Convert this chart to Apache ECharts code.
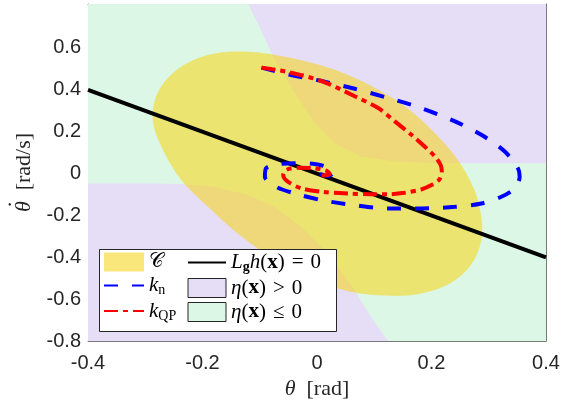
<!DOCTYPE html>
<html>
<head>
<meta charset="utf-8">
<script src="https://cdn.jsdelivr.net/npm/echarts@6/dist/echarts.min.js"></script>
<style>
html, body { margin: 0; padding: 0; background: #fff; }
#main { width: 576px; height: 400px; }
</style>
</head>
<body>
<div id="main"></div>
<script>
// axis limits and tick labels
var X_MIN = -0.4, X_MAX = 0.4, Y_MIN = -0.8, Y_MAX = 0.81;
var xTickLabels = [-0.4, -0.2, 0, 0.2, 0.4];
var yTickLabels = [-0.8, -0.6, -0.4, -0.2, 0, 0.2, 0.4, 0.6];

// region C (yellow), boundary [theta, thetaDot]
var setC = [[-0.287, 0.257], [-0.281, 0.369], [-0.260, 0.458], [-0.225, 0.530], [-0.179, 0.573],
  [-0.132, 0.583], [-0.080, 0.570], [-0.022, 0.538], [0.037, 0.490], [0.095, 0.418],
  [0.153, 0.321], [0.206, 0.193], [0.246, 0.065], [0.275, -0.079], [0.287, -0.208],
  [0.287, -0.320], [0.270, -0.432], [0.235, -0.520], [0.182, -0.573], [0.136, -0.584],
  [0.083, -0.576], [0.031, -0.544], [-0.022, -0.488], [-0.080, -0.400], [-0.138, -0.288],
  [-0.190, -0.160], [-0.237, -0.031], [-0.272, 0.129]];

// eta(x) > 0 : two pieces
var etaPosUpper = [[-0.1205, Y_MAX], [-0.097, 0.682], [-0.077, 0.562], [-0.056, 0.466], [-0.039, 0.385],
  [-0.004, 0.241], [0.031, 0.145], [0.077, 0.081], [0.136, 0.057], [0.206, 0.049],
  [X_MAX, 0.049], [X_MAX, Y_MAX]];
var etaPosLower = [[X_MIN, -0.047], [-0.284, -0.047], [-0.237, -0.050], [-0.179, -0.063], [-0.1205, -0.103],
  [-0.074, -0.159], [-0.027, -0.256], [0.008, -0.352], [0.037, -0.448], [0.066, -0.560],
  [0.095, -0.688], [0.124, Y_MIN], [X_MIN, Y_MIN]];
// eta(x) <= 0 : whole box (purple drawn on top)
var etaNeg = [[X_MIN, Y_MIN], [X_MAX, Y_MIN], [X_MAX, Y_MAX], [X_MIN, Y_MAX]];

// L_g h(x) = 0
var lghLine = [[-0.4, 0.4], [0.4, -0.4]];

// trajectories
var kN = [[-0.097, 0.506], [-0.051, 0.474], [0.008, 0.442], [0.066, 0.405], [0.124, 0.361],
  [0.182, 0.313], [0.241, 0.249], [0.287, 0.185], [0.328, 0.105], [0.351, 0.025],
  [0.354, -0.015], [0.345, -0.071], [0.322, -0.111], [0.287, -0.143], [0.241, -0.159],
  [0.182, -0.167], [0.124, -0.167], [0.066, -0.151], [0.008, -0.127], [-0.039, -0.095],
  [-0.074, -0.060], [-0.091, -0.015], [-0.089, 0.025], [-0.068, 0.044], [-0.039, 0.049],
  [-0.004, 0.046], [0.019, 0.028], [0.028, 0.004], [0.019, -0.012], [0.005, -0.002]];
var kQP = [[-0.097, 0.506], [-0.051, 0.485], [0.008, 0.442], [0.066, 0.369], [0.107, 0.313],
  [0.136, 0.249], [0.165, 0.185], [0.188, 0.129], [0.206, 0.081], [0.216, 0.041],
  [0.218, 0.009], [0.213, -0.031], [0.200, -0.055], [0.182, -0.076], [0.153, -0.092],
  [0.124, -0.099], [0.095, -0.099], [0.054, -0.095], [0.008, -0.087], [-0.027, -0.071],
  [-0.051, -0.039], [-0.059, -0.007], [-0.054, 0.017], [-0.033, 0.028], [-0.004, 0.025],
  [0.016, 0.014], [0.022, -0.002], [0.011, -0.009], [0.002, -0.002]];

var sp = '\u2004';
var legendNames = {
  C: '{cal|\uD835\uDC9E}',
  kn: '{m|k}{s|n}',
  kqp: '{m|k}{s|QP}',
  Lg: '{m|L}{sb|g}{m|h}{r|(}{b|x}{r|)' + sp + '=' + sp + '0}',
  etaPos: '{m|\u03B7}{r|(}{b|x}{r|)' + sp + '>' + sp + '0}',
  etaNeg: '{m|\u03B7}{r|(}{b|x}{r|)' + sp + '\u2264' + sp + '0}'
};

var serif = 'Liberation Serif';
var rich = {
  m: { fontFamily: serif, fontStyle: 'italic', fontSize: 21, lineHeight: 24, color: '#000' },
  r: { fontFamily: serif, fontSize: 21, lineHeight: 24, color: '#000' },
  b: { fontFamily: serif, fontWeight: 'bold', fontSize: 21, lineHeight: 24, color: '#000' },
  s: { fontFamily: serif, fontSize: 14, lineHeight: 24, verticalAlign: 'bottom', color: '#000' },
  sb: { fontFamily: serif, fontWeight: 'bold', fontSize: 14, lineHeight: 24, verticalAlign: 'bottom', color: '#000' },
  cal: { fontFamily: 'DejaVu Serif', fontSize: 20, lineHeight: 24, color: '#000' }
};

function isTick(list, v) {
  for (var i = 0; i < list.length; i++) if (Math.abs(list[i] - v) < 1e-6) return true;
  return false;
}

function polygon(name, pts, color, smooth) {
  return {
    name: name, type: 'custom', data: pts, z: 1, silent: true,
    itemStyle: { color: color },
    renderItem: function (params, api) {
      if (params.context.rendered) return;
      params.context.rendered = true;
      var points = pts.map(function (p) { return api.coord(p); });
      return { type: 'polygon', shape: { points: points, smooth: smooth || 0 }, style: { fill: color } };
    }
  };
}

var green = '#dcf7e6', purple = '#e6ddf7', yellow = 'rgba(247,213,25,0.57)';
var axisColor = '#7a7a7a';
var nameRich = {
  m: { fontFamily: serif, fontStyle: 'italic', fontSize: 22, lineHeight: 24, color: '#262626' },
  r: { fontFamily: serif, fontSize: 22, lineHeight: 24, color: '#262626' },
  dot: { fontFamily: serif, fontSize: 22, lineHeight: 2, align: 'left', padding: [0, 0, 0, 4], color: '#262626' }
};

var option = {
  animation: false,
  grid: { left: 88, right: 30, top: 4, bottom: 59, outerBoundsMode: 'none', containLabel: false },
  xAxis: [{
    type: 'value', min: X_MIN, max: X_MAX, interval: 0.2,
    axisLine: { show: true, onZero: false, lineStyle: { color: axisColor, width: 1 } },
    axisTick: { show: true, inside: true, length: 5, lineStyle: { color: axisColor } },
    splitLine: { show: false },
    axisLabel: {
      fontFamily: 'Liberation Sans', fontSize: 20, color: '#262626', margin: 12,
      formatter: function (v) { return isTick(xTickLabels, v) ? String(+v.toFixed(1)) : ''; }
    },
    name: '{m|\u03B8}{r|\u2002[rad]}', nameLocation: 'middle', nameGap: 36,
    nameTextStyle: { rich: nameRich }
  }, {
    type: 'value', position: 'top', min: X_MIN, max: X_MAX, interval: 0.2,
    axisLine: { show: true, onZero: false, lineStyle: { color: axisColor, width: 1 } },
    axisTick: { show: true, inside: true, length: 5, lineStyle: { color: axisColor } },
    axisLabel: { show: false }, splitLine: { show: false }
  }],
  yAxis: [{
    type: 'value', min: Y_MIN, max: Y_MAX, interval: 0.2,
    axisLine: { show: true, onZero: false, lineStyle: { color: axisColor, width: 1 } },
    axisTick: { show: true, inside: true, length: 5, lineStyle: { color: axisColor } },
    splitLine: { show: false },
    axisLabel: {
      fontFamily: 'Liberation Sans', fontSize: 20, color: '#262626', margin: 7,
      formatter: function (v) { return isTick(yTickLabels, v) ? String(+v.toFixed(1)) : ''; }
    },
    name: '{dot|\u00B7}\n{m|\u03B8}{r|\u2002[rad/s]}', nameLocation: 'middle', nameGap: 46,
    nameTextStyle: { rich: nameRich }
  }, {
    type: 'value', position: 'right', min: Y_MIN, max: Y_MAX, interval: 0.2,
    axisLine: { show: true, onZero: false, lineStyle: { color: axisColor, width: 1 } },
    axisTick: { show: true, inside: true, length: 5, lineStyle: { color: axisColor } },
    axisLabel: { show: false }, splitLine: { show: false }
  }],
  legend: [{
    orient: 'vertical', left: 103, top: 252, itemWidth: 40, itemHeight: 19, itemGap: 3,
    selectedMode: false, z: 10, padding: 0,
    data: [{ name: 'C', icon: 'rect' },
      { name: 'kn', itemStyle: { opacity: 0 } },
      { name: 'kqp', itemStyle: { opacity: 0 } }],
    formatter: function (n) { return legendNames[n]; },
    textStyle: { rich: rich }
  }, {
    orient: 'vertical', left: 187, top: 252, itemWidth: 38, itemHeight: 19, itemGap: 3,
    selectedMode: false, z: 10, padding: 0,
    data: [{ name: 'Lg', itemStyle: { opacity: 0 } },
      { name: 'etaPos', icon: 'rect', itemStyle: { borderColor: '#262626', borderWidth: 1 } },
      { name: 'etaNeg', icon: 'rect', itemStyle: { borderColor: '#262626', borderWidth: 1 } }],
    formatter: function (n) { return legendNames[n]; },
    textStyle: { rich: rich }
  }],
  graphic: { elements: [{
    type: 'rect', z: 8, silent: true,
    shape: { x: 99.5, y: 249.5, width: 237, height: 82 },
    style: { fill: '#fff', stroke: '#262626', lineWidth: 1 }
  }] },
  series: [
    polygon('etaNeg', etaNeg, green),
    polygon('etaPos', etaPosUpper, purple),
    polygon('etaPosLower', etaPosLower, purple),
    polygon('C', setC, yellow, 0.35),
    { name: 'Lg', type: 'line', data: lghLine, z: 3, symbol: 'none', silent: true,
      lineStyle: { color: '#000', width: 4 }, itemStyle: { color: '#000' } },
    { name: 'kn', type: 'line', data: kN, z: 3, symbol: 'none', smooth: 0.3, silent: true,
      lineStyle: { color: '#0000ff', width: 4, type: [14, 14] }, itemStyle: { color: '#0000ff' } },
    { name: 'kqp', type: 'line', data: kQP, z: 3, symbol: 'none', smooth: 0.3, silent: true,
      lineStyle: { color: '#ff0000', width: 4, type: [14, 5, 5, 5] }, itemStyle: { color: '#ff0000' } }
  ]
};

var myChart = echarts.init(document.getElementById('main'));
myChart.setOption(option);
</script>
</body>
</html>
